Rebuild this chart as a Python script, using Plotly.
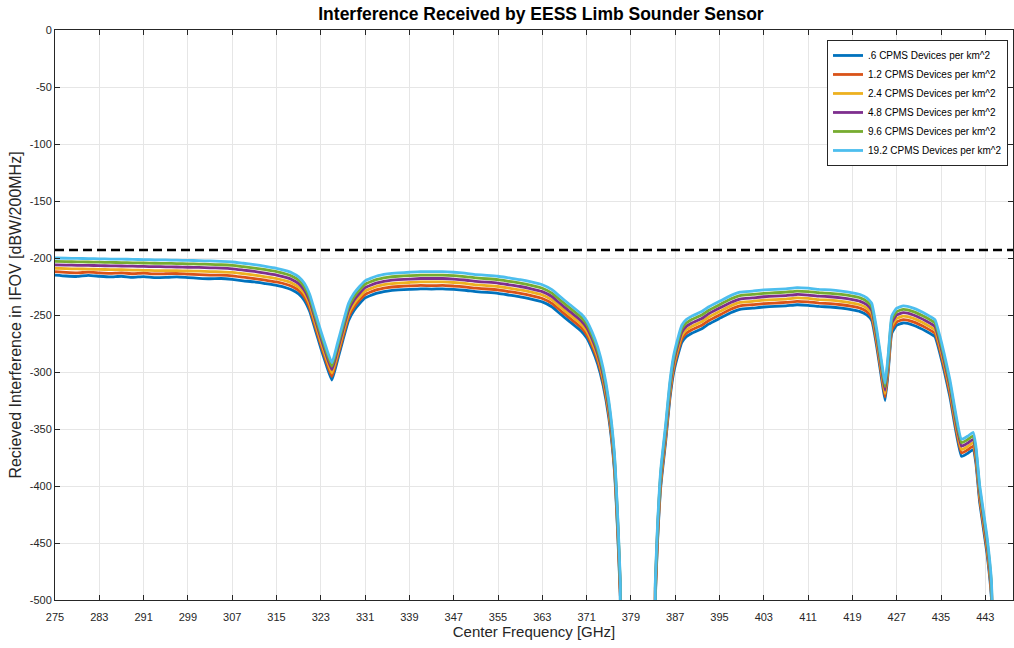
import plotly.graph_objects as go

freq_ghz = [275,277,279,281,283,285,287,289,291,293,295,297,299,301,303,305,307,309,311,313,315,317,318,319,
            320,321,322,323,324,325,326,327,328,329,330,331,
            333,335,337,339,341,343,345,347,349,351,353,355,357,359,361,363,
            364.8,366,368,370,371,372,373,374,375,376,376.6,377.1,377.6,
            382.9,383.4,383.8,384.4,385.3,386,386.7,387.5,388.2,389,390,
            391.8,393,395.2,397,398.7,
            401,403,405,407,409,411,413,415,417,419,
            420.4,421.6,422.5,423.4,424.3,424.9,425.5,426.1,427,428.2,430,
            432.4,433.9,434.8,436.6,438.7,439.9,440.8,441.3,442,443.3,444.1,444.6]

density_0_6 = [-215,-215.8,-216.2,-215.2,-216,-216.6,-216,-217,-216.3,-217.2,-217,-216.6,-217.2,-217.8,-218.2,-218,-218.8,-220,-221,-222.5,-224,-226.5,-228.5,-231.5,
               -237,-247,-263,-279,-294,-307,-290,-272,-255,-246,-240,-235,
               -231,-229,-228,-227.5,-227,-227.3,-227,-227.6,-228.3,-229.5,-230.2,-231,-232.5,-234,-236,-238.5,
               -243,-248,-256,-264,-270,-280,-293,-312,-340,-385,-440,-500,-620,
               -620,-500,-450,-400,-360,-325,-301,-285,-274,-269,-266,
               -262,-258,-252.5,-248,-245,
               -244,-243,-242.5,-242,-241,-241.5,-242.5,-243,-244,-245.5,
               -247,-250,-255,-278,-307,-325,-298,-266,-259,-257,-259,
               -264.5,-269,-283.6,-321.6,-374,-371,-368,-380,-415,-459,-498,-620]

density_1_2 = [-212,-212.6,-213,-212.4,-213,-213.4,-213,-213.8,-213.3,-214,-213.8,-213.6,-214.2,-214.6,-215,-215,-215.6,-216.8,-218,-219.5,-221,-223.5,-225.5,-228.5,
               -234,-244,-260,-276,-291,-304,-287,-269,-252,-243,-237,-232,
               -228,-226,-225,-224.5,-224,-224.3,-224,-224.6,-225.3,-226.5,-227.2,-228,-229.5,-231,-233,-235.5,
               -240,-245,-253,-261,-267,-277,-290,-309,-337,-382,-437,-497,-620,
               -620,-497,-447,-397,-357,-322,-298,-282,-271,-266,-263,
               -259,-255,-249.5,-245,-242,
               -241,-240,-239.5,-239,-238,-238.5,-239.5,-240,-241,-242.5,
               -244,-247,-252,-275,-304,-322,-295,-263,-256,-254,-256,
               -261.5,-266,-280.6,-318.6,-371,-368,-365,-377,-412,-456,-495,-620]

density_2_4 = [-209,-209.3,-209.6,-209.7,-210,-210.2,-210.3,-210.6,-210.8,-211,-211,-211.2,-211.4,-211.6,-211.9,-212.1,-212.6,-213.8,-215,-216.5,-218,-220.5,-222.5,-225.5,
               -231,-241,-257,-273,-288,-301,-284,-266,-249,-240,-234,-229,
               -225,-223,-222,-221.5,-221,-221,-221,-221.5,-222.3,-223.5,-224.2,-225,-226.5,-228,-230,-232.5,
               -237,-242,-250,-258,-264,-274,-287,-306,-334,-379,-434,-494,-620,
               -620,-494,-444,-394,-354,-319,-295,-279,-268,-263,-260,
               -256,-252,-246.5,-242,-239,
               -238,-237,-236.5,-236,-235,-235.5,-236.5,-237,-238,-239.5,
               -241,-244,-249,-272,-301,-319,-292,-260,-253,-251,-253,
               -258.5,-263,-277.6,-315.6,-368,-365,-362,-374,-409,-453,-492,-620]

density_4_8 = [-206,-206.2,-206.4,-206.5,-206.7,-206.9,-207,-207.2,-207.4,-207.6,-207.7,-207.9,-208.1,-208.3,-208.6,-208.9,-209.5,-210.6,-211.8,-213.3,-215,-217.5,-219.5,-222.5,
               -228,-238,-254,-270,-285,-298,-281,-263,-246,-237,-231,-226,
               -222,-220,-219,-218.5,-218,-218,-218,-218.5,-219.3,-220.5,-221.2,-222,-223.5,-225,-227,-229.5,
               -234,-239,-247,-255,-261,-271,-284,-303,-331,-376,-431,-491,-620,
               -620,-491,-441,-391,-351,-316,-292,-276,-265,-260,-257,
               -253,-249,-243.5,-239,-236,
               -235,-234,-233.5,-233,-232,-232.5,-233.5,-234,-235,-236.5,
               -238,-241,-246,-269,-298,-316,-289,-257,-250,-248,-250,
               -255.5,-260,-274.6,-312.6,-365,-362,-359,-371,-406,-450,-489,-620]

density_9_6 = [-203,-203.2,-203.4,-203.5,-203.7,-203.9,-204,-204.2,-204.4,-204.6,-204.7,-204.9,-205.1,-205.3,-205.6,-205.9,-206.5,-207.6,-208.8,-210.3,-212,-214.5,-216.5,-219.5,
               -225,-235,-251,-267,-282,-295,-278,-260,-243,-234,-228,-223,
               -219,-217,-216,-215.5,-215,-215,-215,-215.5,-216.3,-217.5,-218.2,-219,-220.5,-222,-224,-226.5,
               -231,-236,-244,-252,-258,-268,-281,-300,-328,-373,-428,-488,-620,
               -620,-488,-438,-388,-348,-313,-289,-273,-262,-257,-254,
               -250,-246,-240.5,-236,-233,
               -232,-231,-230.5,-230,-229,-229.5,-230.5,-231,-232,-233.5,
               -235,-238,-243,-266,-295,-313,-286,-254,-247,-245,-247,
               -252.5,-257,-271.6,-309.6,-362,-359,-356,-368,-403,-447,-486,-620]

density_19_2 = [-200,-200.2,-200.4,-200.5,-200.7,-200.9,-201,-201.2,-201.4,-201.6,-201.7,-201.9,-202.1,-202.3,-202.6,-202.9,-203.5,-204.6,-205.8,-207.3,-209,-211.5,-213.5,-216.5,
                -222,-232,-248,-264,-279,-292,-275,-257,-240,-231,-225,-220,
                -216,-214,-213,-212.5,-212,-212,-212,-212.5,-213.3,-214.5,-215.2,-216,-217.5,-219,-221,-223.5,
                -228,-233,-241,-249,-255,-265,-278,-297,-325,-370,-425,-485,-620,
                -620,-485,-435,-385,-345,-310,-286,-270,-259,-254,-251,
                -247,-243,-237.5,-233,-230,
                -229,-228,-227.5,-227,-226,-226.5,-227.5,-228,-229,-230.5,
                -232,-235,-240,-263,-292,-310,-283,-251,-244,-242,-244,
                -249.5,-254,-268.6,-306.6,-359,-356,-353,-365,-400,-444,-483,-620]

series_names = [".6 CPMS Devices per km^2", "1.2 CPMS Devices per km^2", "2.4 CPMS Devices per km^2",
                "4.8 CPMS Devices per km^2", "9.6 CPMS Devices per km^2", "19.2 CPMS Devices per km^2"]
series_values = [density_0_6, density_1_2, density_2_4, density_4_8, density_9_6, density_19_2]
series_colors = ["#0072BD", "#D95319", "#EDB120", "#7E2F8E", "#77AC30", "#4DBEEE"]

threshold_x = [275, 448]
threshold_y = [-193, -193]

x_ticks = list(range(275, 444, 8))
y_ticks = list(range(-500, 1, 50))
y_tick_text = [str(v) for v in y_ticks]

FONT = "Liberation Sans, Arial, sans-serif"

fig = go.Figure()
for name, vals, col in zip(series_names, series_values, series_colors):
    fig.add_trace(go.Scatter(x=freq_ghz, y=vals, mode="lines", name=name,
                             line=dict(color=col, width=2.8, shape="spline", smoothing=0.4)))
fig.add_trace(go.Scatter(x=threshold_x, y=threshold_y, mode="lines", showlegend=False,
                         line=dict(color="black", width=2.6, dash="9px,5px")))

axis_common = dict(showgrid=True, gridcolor="#e6e6e6", gridwidth=1, zeroline=False,
                   showline=True, linecolor="#262626", linewidth=1, mirror="ticks",
                   ticks="inside", ticklen=5, tickcolor="#262626",
                   tickfont=dict(family=FONT, size=11, color="#262626"))

fig.update_layout(
    width=1014, height=648,
    margin=dict(l=55, r=1, t=30, b=48),
    paper_bgcolor="white", plot_bgcolor="white",
    title=dict(text="<b>Interference Received by EESS Limb Sounder Sensor</b>",
               x=0.5335, xanchor="center", y=0.978, yanchor="middle",
               font=dict(family=FONT, size=17.5, color="black")),
    xaxis=dict(range=[275, 448], tickvals=x_ticks, ticklabelstandoff=7,
               title=dict(text="Center Frequency [GHz]", standoff=4,
                          font=dict(family=FONT, size=15, color="#262626")),
               **axis_common),
    yaxis=dict(range=[-500, 0], tickvals=y_ticks, ticktext=y_tick_text,
               title=dict(text="Recieved Interference in IFOV [dBW/200MHz]", standoff=4,
                          font=dict(family=FONT, size=16, color="#262626")),
               **axis_common),
    legend=dict(x=0.9948, xanchor="right", y=0.9825, yanchor="top",
                bgcolor="white", bordercolor="#262626", borderwidth=1,
                font=dict(family=FONT, size=10, color="black"),
                tracegroupgap=0, itemwidth=30),
    showlegend=True,
)

fig.write_html("out.html")
